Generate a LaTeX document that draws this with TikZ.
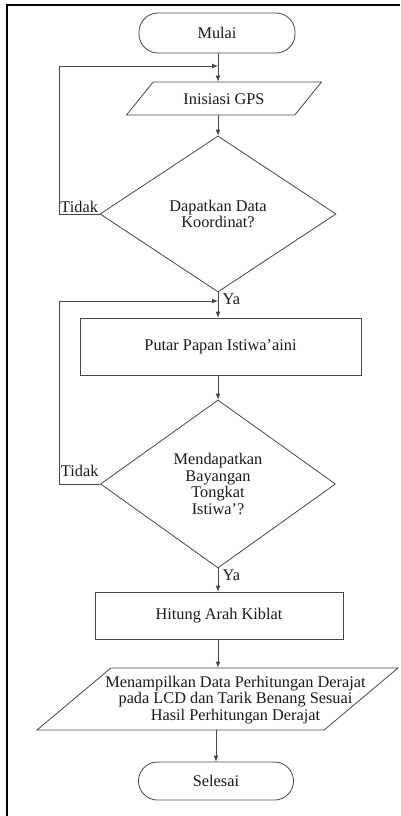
\documentclass[tikz,border=0pt]{standalone}
\usepackage{fontspec}
\setmainfont{Liberation Serif}
\usetikzlibrary{shapes.geometric,arrows.meta}
\definecolor{linegray}{RGB}{70,70,75}
\definecolor{textgray}{RGB}{25,25,25}

\begin{document}
\begin{tikzpicture}[x=1pt,y=-1pt,
    font=\fontsize{16.3}{16.8}\selectfont, text=textgray,
    line/.style={draw=linegray, line width=0.8pt},
    terminal/.style={line, rectangle, rounded corners=19pt},
    process/.style={line, rectangle},
    io/.style={line, trapezium, trapezium stretches body, inner xsep=0pt,
        text height=12pt, text depth=0pt},
    decision/.style={line, diamond, inner sep=0pt, align=center},
    flow/.style={draw=linegray, line width=0.8pt, -{Latex[length=6pt,width=5pt]}}]
    \useasboundingbox (0,0) rectangle (400,816);
    % Frame
    \draw[line width=2pt, black] (7,816) -- (7,5) -- (400,5);

    % Define node positions
    \node[terminal, minimum width=156pt, minimum height=40pt] (start) at (217,33) {Mulai};
    \node[io, trapezium left angle=51, trapezium right angle=129, inner ysep=10.5pt,
        minimum width=195pt] (gps) at (224,98.5) {Inisiasi GPS};
    \node[decision, minimum width=236pt, minimum height=156pt] (d1) at (218,214) {Dapatkan Data\\Koordinat?};
    \node[process, minimum width=281pt, minimum height=57pt] (rotate) at (220.5,346.5) {Putar Papan Istiwa'aini};
    \node[decision, minimum width=235pt, minimum height=168pt] (d2) at (218,484) {Mendapatkan\\Bayangan\\Tongkat\\Istiwa'?};
    \node[process, minimum width=248pt, minimum height=47pt] (kiblat) at (219,615.5) {Hitung Arah Kiblat};
    \node[io, trapezium left angle=40, trapezium right angle=140, inner ysep=25pt,
        minimum width=361pt] (show) at (217.5,699) {\phantom{X}};
    \node[align=center, inner sep=0pt] (showtxt) at ([xshift=18pt, yshift=-1pt]show.center)
        {Menampilkan Data Perhitungan Derajat\\pada LCD dan Tarik Benang Sesuai\\Hasil Perhitungan Derajat};
    \node[terminal, minimum width=155pt, minimum height=38pt] (stop) at (216,781) {Selesai};

    % Loop points
    \coordinate (j1) at (218,66); \coordinate (l1) at (59,66);
    \coordinate (j2) at (218,301); \coordinate (l2) at (59,301);

    % Draw arrows
    \draw[flow] (start.south -| j1) -- (gps.north -| j1);
    \draw[flow] (gps.south -| j1) -- (d1.north);
    \draw[flow] (d1.south) -- (rotate.north -| d1.south);
    \draw[flow] (rotate.south -| d2.north) -- (d2.north);
    \draw[flow] (d2.south) -- (kiblat.north -| d2.south);
    \draw[flow] (kiblat.south -| d2.south) -- (show.north -| d2.south);
    \draw[flow] (show.south -| stop) -- (stop.north);

    % Loops back
    \draw[flow] (d1.west) -- (d1.west -| l1) -- (l1) -- (j1);
    \draw[flow] (d2.west) -- (d2.west -| l2) -- (l2) -- (j2);

    % Labels
    \node[anchor=south east, inner sep=1.5pt] at (d1.west) {Tidak};
    \node[anchor=south east, inner sep=1.5pt, yshift=6pt] at (d2.west) {Tidak};
    \node[anchor=north west, inner sep=1.5pt, xshift=3pt] at (d1.south) {Ya};
    \node[anchor=north west, inner sep=1.5pt, xshift=3pt] at (d2.south) {Ya};
\end{tikzpicture}
\end{document}
